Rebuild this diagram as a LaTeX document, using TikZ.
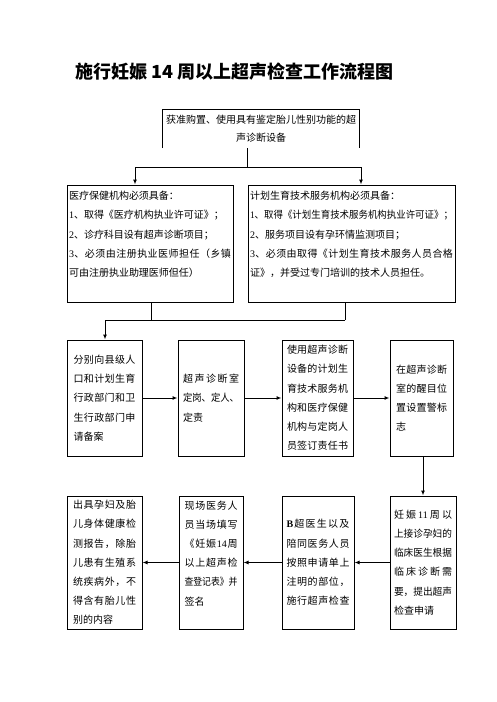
\documentclass[tikz,border=0pt]{standalone}
\usepackage{fontspec}
\usepackage{graphicx}
\setmainfont{Noto Sans CJK SC}
\newfontfamily\latin{Liberation Serif}
\usetikzlibrary{arrows.meta}
\newsavebox\sprbox
\def\spfa#1{{#1}\spra}
\def\spra#1{\ifx\relax#1\else\hfil{#1}\expandafter\spra\fi}
\newcommand\spr[2]{\sbox\sprbox{#2}\ifdim\wd\sprbox>#1\relax\resizebox{#1}{\height}{#2}\else\makebox[#1][s]{\spfa#2\relax}\fi}
\tikzset{
  box/.style={draw, line width=1pt, inner sep=0pt, align=left, font=\fontsize{10}{19.2}\selectfont},
  arr/.style={-{Latex[length=5pt,width=4pt]}, line width=1pt},
  ln/.style={line width=1pt}
}
\begin{document}
\begin{tikzpicture}[x=1pt,y=-1pt]
\fill[white] (0,0) rectangle (496,702);
\useasboundingbox (0,0) rectangle (496,702);
% title
\node[anchor=base west, inner sep=0pt, font=\fontsize{18}{18}\selectfont\bfseries] (title) at (75,78.8) {施行妊娠 14 周以上超声检查工作流程图};
% top box (open at the bottom)
\node[inner sep=0pt, minimum width=196pt, minimum height=38pt, text width=196pt, align=center, font=\fontsize{10}{18}\selectfont] (top) at (261,129) {获准购置、使用具有鉴定胎儿性别功能的超\\声诊断设备};
\draw[ln] (top.south west) -- (top.north west) -- (top.north east) -- (top.south east);
% second row
\node[box, text width=162pt, minimum width=166pt, minimum height=117pt] (b2) at (150,243.5) {医疗保健机构必须具备：\\
{\latin 1}、取得《医疗机构执业许可证》；\\
{\latin 2}、诊疗科目设有超声诊断项目；\\
\spr{162pt}{{\latin 3}、必须由注册执业医师担任（乡镇}\\
可由注册执业助理医师但任）\\
\mbox{}};
\node[box, text width=203pt, minimum width=207pt, minimum height=117pt] (b3) at (351.5,243.5) {计划生育技术服务机构必须具备：\\
\spr{203pt}{{\latin 1}、取得《计划生育技术服务机构执业许可证》；}\\
{\latin 2}、服务项目设有孕环情监测项目；\\
\spr{203pt}{{\latin 3}、必须由取得《计划生育技术服务人员合格}\\
证》，并受过专门培训的技术人员担任。\\
\mbox{}};
% third row
\node[box, text width=62pt, minimum width=75pt, minimum height=116pt] (A) at (104.5,398) {\spr{62pt}{分别向县级人}\\\spr{62pt}{口和计划生育}\\\spr{62pt}{行政部门和卫}\\\spr{62pt}{生行政部门申}\\请备案};
\node[box, text width=56pt, minimum width=66pt, minimum height=116pt] (B) at (211,398) {\spr{56pt}{超声诊断室}\\\spr{56pt}{定岗、定人、}\\定责};
\node[box, text width=61pt, minimum width=71pt, minimum height=116pt] (C) at (317.5,398) {\spr{61pt}{使用超声诊断}\\\spr{61pt}{设备的计划生}\\\spr{61pt}{育技术服务机}\\\spr{61pt}{构和医疗保健}\\\spr{61pt}{机构与定岗人}\\\spr{61pt}{员签订责任书}};
\node[box, text width=51pt, minimum width=63pt, minimum height=116pt] (D) at (421.5,398) {\spr{51pt}{在超声诊断}\\\spr{51pt}{室的醒目位}\\\spr{51pt}{置设置警标}\\志};
% fourth row
\node[box, text width=58pt, minimum width=66pt, minimum height=133pt] (E) at (423,562.5) {\spr{58pt}{妊娠{\latin 11}周以}\\\spr{58pt}{上接诊孕妇的}\\\spr{58pt}{临床医生根据}\\\spr{58pt}{临床诊断需}\\\spr{58pt}{要，提出超声}\\检查申请};
\node[box, text width=63pt, minimum width=72pt, minimum height=133pt] (F) at (318,562.5) {\spr{63pt}{{\latin\bfseries B}超医生以及}\\\spr{63pt}{陪同医务人员}\\\spr{63pt}{按照申请单上}\\\spr{63pt}{注明的部位，}\\\spr{63pt}{施行超声检查}};
\node[box, text width=53pt, minimum width=64pt, minimum height=133pt] (G) at (211,562.5) {\spr{53pt}{现场医务人}\\\spr{53pt}{员当场填写}\\\spr{53pt}{《妊娠{\latin 14}周}\\\spr{53pt}{以上超声检}\\\spr{53pt}{查登记表》并}\\签名\\\mbox{}};
\node[box, text width=63pt, minimum width=75pt, minimum height=133pt] (H) at (104.5,562.5) {\spr{63pt}{出具孕妇及胎}\\\spr{63pt}{儿身体健康检}\\\spr{63pt}{测报告，除胎}\\\spr{63pt}{儿患有生殖系}\\\spr{63pt}{统疾病外，不}\\\spr{63pt}{得含有胎儿性}\\别的内容};
% connectors
\coordinate (j1) at (247,167);
\coordinate (jl) at (135,167);
\coordinate (jr) at (361,167);
\draw[ln] (top.south -| j1) -- (j1);
\draw[arr] (j1) -- (jl) -- (jl |- b2.north);
\draw[arr] (j1) -- (jr) -- (jr |- b3.north);
\coordinate (k1) at (105,320);
\coordinate (k2) at (151,320);
\coordinate (k3) at (345,320);
\draw[ln] (b2.south -| k2) -- (k2);
\draw[ln] (b3.south -| k3) -- (k3);
\draw[arr] (k3) -- (k1) -- (k1 |- A.north);
\draw[arr] (A.east) -- (B.west);
\draw[arr] (B.east) -- (C.west);
\draw[arr] (C.east) -- (D.west);
\draw[arr] (D.south -| E.north) -- (E.north);
\draw[arr] (E.west) -- (F.east);
\draw[arr] (F.west) -- (G.east);
\draw[arr] (G.west) -- (H.east);
\end{tikzpicture}
\end{document}
